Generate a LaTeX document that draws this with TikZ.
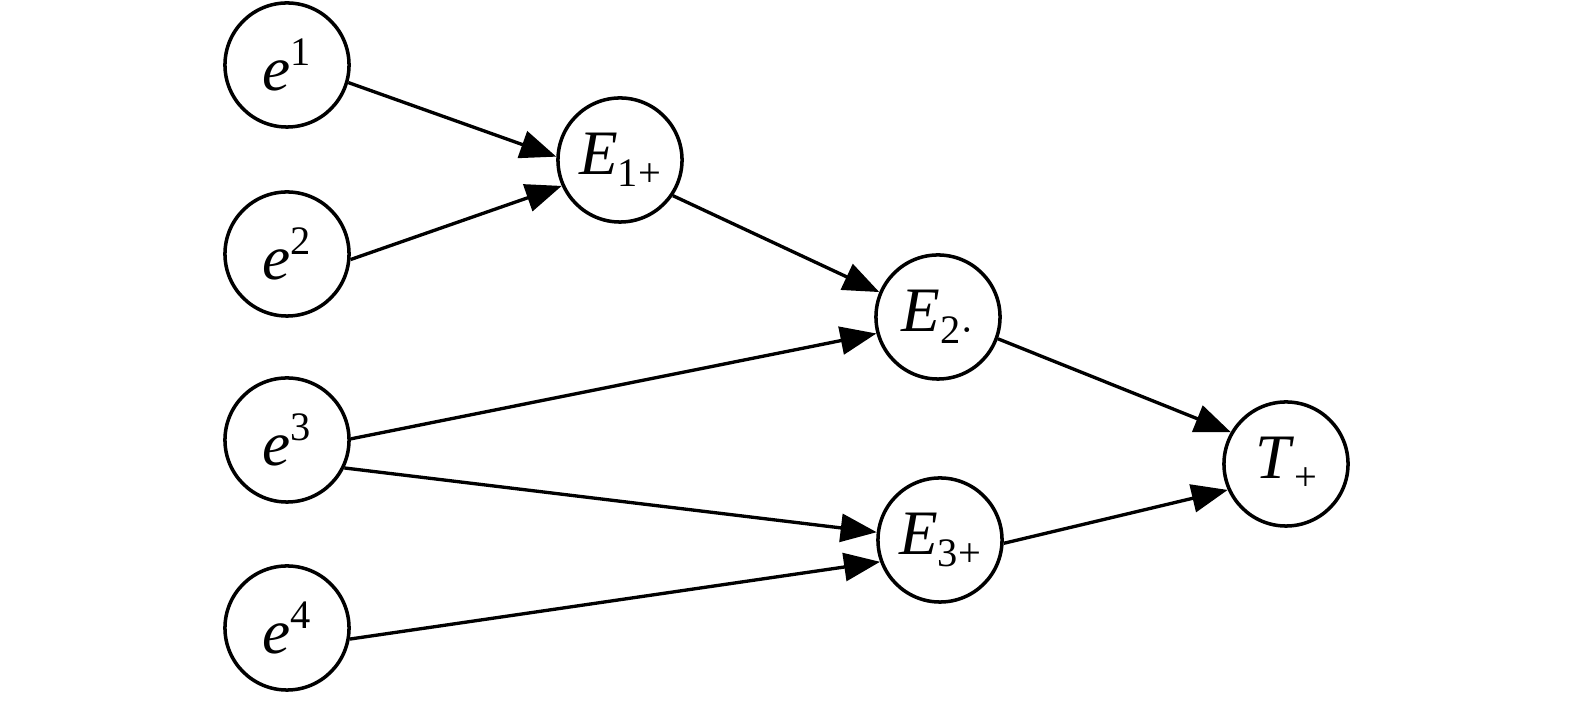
\documentclass[tikz,border=0pt]{standalone}
\usepackage{fontspec}
\setmainfont{Liberation Serif}
\usetikzlibrary{arrows.meta}
\newcommand{\lblsub}[2]{\textit{#1}\raisebox{-0.4ex}{\fontsize{11.5}{11.5}\selectfont #2}}
\newcommand{\lblsup}[2]{\textit{#1}\raisebox{0.85ex}{\fontsize{11.5}{11.5}\selectfont #2}}
\begin{document}
\begin{tikzpicture}[x=0.01cm,y=-0.01cm,
  vnode/.style={circle,draw,line width=1pt,inner sep=0pt,minimum size=1.24cm,font=\fontsize{18}{18}\selectfont},
  conn/.style={line width=0.95pt,-{Triangle[length=0.36cm,width=0.28cm]}}]
\useasboundingbox (0,0) rectangle (1575,701);
\node[vnode] (e1) at (287,65) {\lblsup{e}{1}};
\node[vnode] (e2) at (287,254) {\lblsup{e}{2}};
\node[vnode] (e3) at (287,440) {\lblsup{e}{3}};
\node[vnode] (e4) at (287,628) {\lblsup{e}{4}};
\node[vnode] (E1) at (620,160) {\lblsub{E}{1+}};
\node[vnode] (E2) at (938,317) {\lblsub{E}{2·}};
\node[vnode] (E3) at (940,540) {\lblsub{E}{3+}};
\node[vnode] (T) at (1286,464) {\lblsub{T}{+}};
\draw[conn] (e1.-16) -- (E1.177);
\draw[conn] (e2.-5) -- (E1.204);
\draw[conn] (E1.-34) -- (E2.157);
\draw[conn] (e3.1) -- (E2.195);
\draw[conn] (e3.-26) -- (E3.173);
\draw[conn] (e4.-10) -- (E3.200);
\draw[conn] (E2.-20) -- (T.150);
\draw[conn] (E3.-3) -- (T.204);
\end{tikzpicture}
\end{document}
